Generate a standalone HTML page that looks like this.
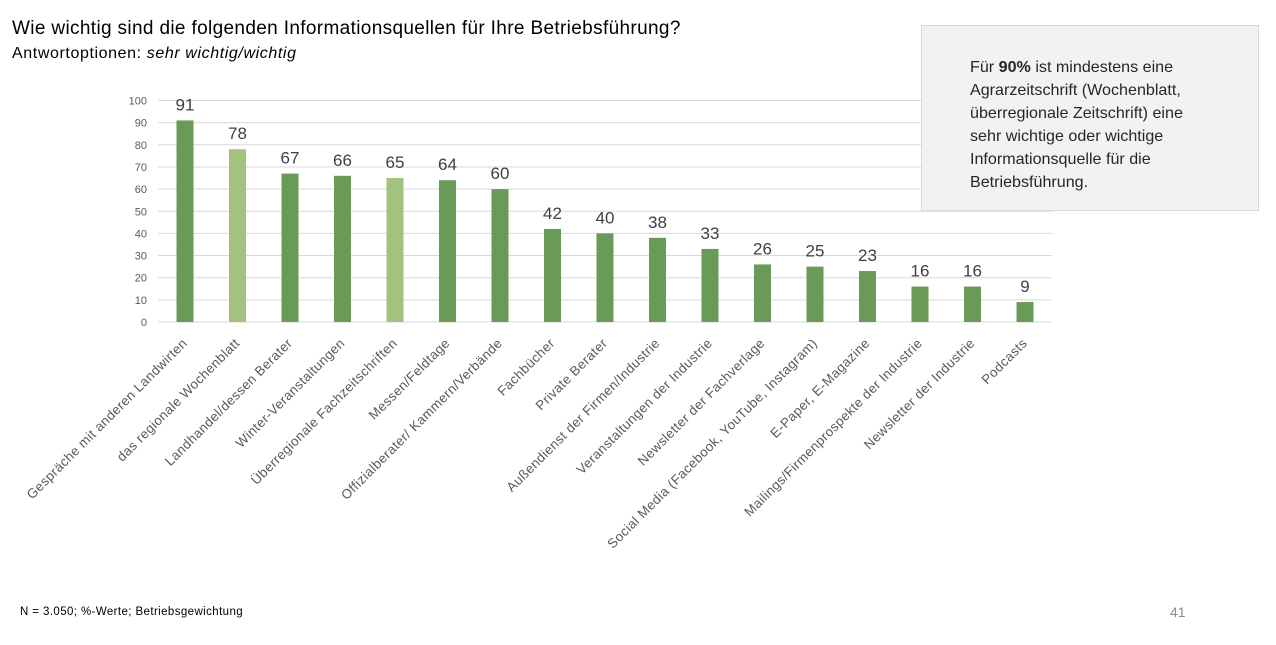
<!DOCTYPE html>
<html><head><meta charset="utf-8"><style>
body{margin:0;background:#fff;width:1276px;height:645px;overflow:hidden;font-family:"Liberation Sans",sans-serif;position:relative}
.t{position:absolute;left:12px;top:18px;font-size:19px;letter-spacing:0.35px;color:#000}
.s{position:absolute;left:12px;top:45px;font-size:16px;letter-spacing:0.6px;color:#000}
.box{position:absolute;left:921px;top:25px;width:338px;height:186px;background:#f2f2f2;border:1px solid #d9d9d9;box-sizing:border-box}
.box div{position:absolute;left:48px;top:30px;font-size:16.1px;line-height:23px;color:#262626}
.n{position:absolute;left:20px;top:606px;font-size:11.5px;letter-spacing:0.4px;color:#000}
.p{position:absolute;left:1170px;top:604px;font-size:14px;color:#8c8c8c}
</style></head><body>
<div class="t">Wie wichtig sind die folgenden Informationsquellen für Ihre Betriebsführung?</div>
<div class="s">Antwortoptionen: <i>sehr wichtig/wichtig</i></div>
<svg width="1276" height="645" style="position:absolute;left:0;top:0" font-family="Liberation Sans, sans-serif">
<g id="g"></g>
</svg>
<div class="box"><div>Für <b>90%</b> ist mindestens eine<br>Agrarzeitschrift (Wochenblatt,<br>überregionale Zeitschrift) eine<br>sehr wichtige oder wichtige<br>Informationsquelle für die<br>Betriebsführung.</div></div>
<div class="n">N = 3.050; %-Werte; Betriebsgewichtung</div>
<div class="p">41</div>
<script>
var ns="http://www.w3.org/2000/svg",g=document.getElementById("g");
function el(n,a,t){var e=document.createElementNS(ns,n);for(var k in a)e.setAttribute(k,a[k]);if(t!=null)e.textContent=t;g.appendChild(e);return e;}
var y0=322,k=2.215;
for(var i=0;i<=10;i++){var y=y0-i*10*k;el("line",{x1:158,x2:1052,y1:y,y2:y,stroke:"#d9d9d9","stroke-width":1});
el("text",{x:147,y:y+4,"font-size":11,fill:"#595959","text-anchor":"end"},i*10);}
var d=[[91,"Gespräche mit anderen Landwirten",0],[78,"das regionale Wochenblatt",1],[67,"Landhandel/dessen Berater",0],[66,"Winter-Veranstaltungen",0],[65,"Überregionale Fachzeitschriften",1],[64,"Messen/Feldtage",0],[60,"Offizialberater/ Kammern/Verbände",0],[42,"Fachbücher",0],[40,"Private Berater",0],[38,"Außendienst der Firmen/Industrie",0],[33,"Veranstaltungen der Industrie",0],[26,"Newsletter der Fachverlage",0],[25,"Social Media (Facebook, YouTube, Instagram)",0],[23,"E-Paper, E-Magazine",0],[16,"Mailings/Firmenprospekte der Industrie",0],[16,"Newsletter der Industrie",0],[9,"Podcasts",0]];
d.forEach(function(r,i){var c=185+i*52.5,h=r[0]*k;
el("rect",{x:c-8.5,y:y0-h,width:17,height:h,fill:r[2]?"#a3c17f":"#6a9a58"});
el("text",{x:c,y:y0-h-10,"font-size":17,fill:"#404040","text-anchor":"middle"},r[0]);
el("text",{x:c+3,y:344,"font-size":13.3,"letter-spacing":0.4,fill:"#595959","text-anchor":"end",transform:"rotate(-45 "+(c+3)+" 344)"},r[1]);});
</script>
</body></html>
